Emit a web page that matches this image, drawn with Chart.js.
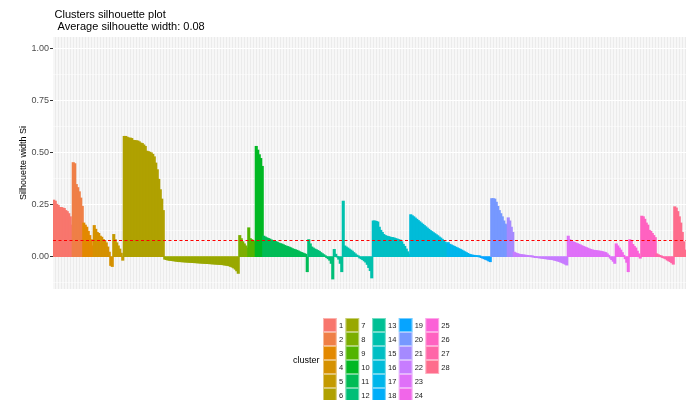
<!DOCTYPE html>
<html>
<head>
<meta charset="utf-8">
<script src="https://cdn.jsdelivr.net/npm/chart.js@4.4.0/dist/chart.umd.min.js"></script>
<style>
  html, body { margin: 0; padding: 0; background: #fff; }
  #wrap { width: 688px; height: 400px; }
</style>
</head>
<body>
<div id="wrap"><canvas id="silhouetteChart" width="688" height="400"></canvas></div>
<script>
// Silhouette widths per cluster, sorted within each cluster
const sil1 = [0.27, 0.265, 0.25, 0.245, 0.235, 0.235, 0.232, 0.23, 0.22, 0.215, 0.205, 0.19, 0.15];
const sil2 = [0.45, 0.445, 0.345, 0.33, 0.31, 0.28, 0.24];
const sil3 = [0.16, 0.15, 0.14, 0.12, 0.10, 0.08, 0.05];
const sil4 = [0.148, 0.13, 0.115, 0.11, 0.097, 0.092, 0.081, 0.075, 0.065, 0.045, 0.02, -0.04, -0.045];
const sil5 = [0.105, 0.08, 0.065, 0.05, 0.035, 0.015, -0.015];
const sil6 = [0.576, 0.576, 0.572, 0.568, 0.568, 0.566, 0.557, 0.556, 0.555, 0.554, 0.55, 0.544, 0.542, 0.535,
  0.528, 0.505, 0.503, 0.5, 0.497, 0.49, 0.478, 0.448, 0.416, 0.37, 0.32, 0.275, 0.22];
const sil7 = [-0.010, -0.012, -0.014, -0.015, -0.016, -0.017, -0.018, -0.019, -0.020, -0.021, -0.022, -0.022,
  -0.023, -0.023, -0.024, -0.024, -0.025, -0.025, -0.026, -0.026, -0.027, -0.027, -0.028, -0.028, -0.029,
  -0.029, -0.030, -0.030, -0.031, -0.031, -0.032, -0.032, -0.033, -0.033, -0.034, -0.034, -0.035, -0.035,
  -0.036, -0.037, -0.038, -0.039, -0.040, -0.042, -0.045, -0.048, -0.052, -0.058, -0.066, -0.078];
const sil8 = [0.10, 0.085, 0.07, 0.06, 0.05, 0.04];
const sil9 = [0.137, 0.085, 0.08, 0.075, 0.07];
const sil10 = [0.528, 0.51, 0.488, 0.47, 0.432];
const sil11 = [0.097, 0.093, 0.089, 0.086, 0.083, 0.079, 0.076, 0.074, 0.071, 0.068, 0.064, 0.061, 0.059, 0.056,
  0.052, 0.049, 0.047, 0.044, 0.041, 0.037, 0.034, 0.032, 0.029, 0.026, 0.022, 0.019, 0.016, 0.013, 0.01, -0.07];
const sil12 = [0.08, 0.06, 0.045, 0.04, 0.035, 0.032, 0.028, 0.024, 0.018, 0.013, 0.008, 0.003, -0.002, -0.008,
  -0.015, -0.03, -0.105];
const sil13 = [0.033, 0.01, 0.0, -0.01, -0.03, -0.07];
const sil14 = [0.265, 0.05, 0.045, 0.04, 0.035, 0.03, 0.025, 0.018, 0.012, 0.006, 0.002, -0.004, -0.008, -0.012,
  -0.018, -0.024, -0.035, -0.05, -0.065, -0.10];
const sil15 = [0.17, 0.17, 0.168, 0.165, 0.14, 0.125, 0.115, 0.105, 0.1, 0.097, 0.095, 0.093, 0.091, 0.09, 0.088,
  0.085, 0.083, 0.08, 0.078, 0.07, 0.058, 0.048, 0.035, 0.022, 0.01];
const sil16 = [0.20, 0.195, 0.19, 0.184, 0.178, 0.172, 0.166, 0.16, 0.154, 0.148, 0.142, 0.136, 0.13, 0.124, 0.119,
  0.114, 0.109, 0.104, 0.099, 0.093, 0.088, 0.082, 0.075, 0.068, 0.06];
const sil17 = [0.066, 0.058, 0.055, 0.051, 0.048, 0.044, 0.041, 0.037, 0.034, 0.03, 0.026, 0.022, 0.018, 0.014, 0.01];
const sil18 = [0.008, 0.006, 0.005, 0.004, 0.003, 0.002, 0.001];
const sil19 = [-0.002, -0.005, -0.008, -0.011, -0.014, -0.018, -0.022];
const sil20 = [0.277, 0.277, 0.275, 0.26, 0.24, 0.22, 0.205, 0.19, 0.17, 0.155, 0.15];
const sil21 = [0.185, 0.17, 0.14, 0.115];
const sil22 = [0.02, 0.016, 0.013, 0.011, 0.009, 0.008, 0.007, 0.006, 0.005, 0.004, 0.003, 0.002, 0.001, 0.0,
  -0.001, -0.002, -0.003, -0.004, -0.005, -0.006, -0.007, -0.008, -0.009, -0.01, -0.011, -0.012, -0.013,
  -0.015, -0.017, -0.019, -0.021, -0.024, -0.027, -0.03, -0.034, -0.038];
const sil23 = [0.097, 0.08, 0.073, 0.07, 0.067, 0.064, 0.061, 0.058, 0.055, 0.051, 0.048, 0.045, 0.042, 0.039,
  0.036, 0.033, 0.031, 0.029, 0.028, 0.027, 0.026, 0.025, 0.024, 0.022, 0.02, 0.018, 0.012, 0.005, -0.005,
  -0.012, -0.02, -0.03];
const sil24 = [0.06, 0.05, 0.04, 0.03, 0.018, 0.005, -0.008, -0.025, -0.07];
const sil25 = [0.08, 0.075, 0.057, 0.048, 0.04, 0.025, 0.012, -0.005];
const sil26 = [0.193, 0.19, 0.178, 0.16, 0.15, 0.125, 0.12, 0.11, 0.1, 0.09];
const sil27 = [0.012, 0.008, 0.004, 0.001, -0.002, -0.005, -0.008, -0.014, -0.018, -0.022, -0.027, -0.034];
const sil28 = [0.238, 0.232, 0.215, 0.19, 0.16, 0.115, 0.07, 0.03];

const clusterSil = [sil1, sil2, sil3, sil4, sil5, sil6, sil7, sil8, sil9, sil10, sil11, sil12, sil13, sil14,
  sil15, sil16, sil17, sil18, sil19, sil20, sil21, sil22, sil23, sil24, sil25, sil26, sil27, sil28];
const clusterNames = clusterSil.map((_, i) => String(i + 1));

const avgWidth = 0.08;
const yMajorTicks = [0, 0.25, 0.5, 0.75, 1];
const yMinorTicks = [-0.125, 0.125, 0.375, 0.625, 0.875];
const yRange = [-0.155, 1.055];

const titleLines = ['Clusters silhouette plot', ' Average silhouette width: 0.08'];
const FONT = '"Liberation Sans", Arial, sans-serif';

// ggplot2 default hue palette (hcl, c = 100, l = 65)
function hcl(h, c, l) {
  const hr = h * Math.PI / 180;
  const U = c * Math.cos(hr), V = c * Math.sin(hr);
  const Y = l > 8 ? Math.pow((l + 16) / 116, 3) : l / 903.3;
  const Xn = 0.95047, Yn = 1, Zn = 1.08883;
  const den = Xn + 15 * Yn + 3 * Zn;
  const u = U / (13 * l) + 4 * Xn / den;
  const v = V / (13 * l) + 9 * Yn / den;
  const X = 9 * Y * u / (4 * v);
  const Z = Y * (12 - 3 * u - 20 * v) / (4 * v);
  const lin = [
    3.240479 * X - 1.537150 * Y - 0.498535 * Z,
    -0.969256 * X + 1.875992 * Y + 0.041556 * Z,
    0.055648 * X - 0.204043 * Y + 1.057311 * Z
  ];
  const rgb = lin.map(x => {
    const g = x <= 0.0031308 ? 12.92 * x : 1.055 * Math.pow(x, 1 / 2.4) - 0.055;
    return Math.round(Math.min(1, Math.max(0, g)) * 255);
  });
  return `rgb(${rgb[0]},${rgb[1]},${rgb[2]})`;
}
const palette = clusterNames.map((_, i) => hcl(15 + 360 * i / clusterNames.length, 100, 65));

// flatten clusters into one bar per observation
const labels = [];
const values = [];
const barColors = [];
clusterSil.forEach((arr, ci) => {
  arr.forEach((v, j) => {
    labels.push(clusterNames[ci] + '.' + (j + 1));
    values.push(v);
    barColors.push(palette[ci]);
  });
});

const isMajor = v => yMajorTicks.some(t => Math.abs(t - v) < 1e-9);

const panelBg = {
  id: 'panelBg',
  beforeDraw(chart) {
    const { ctx, chartArea: a } = chart;
    ctx.save();
    ctx.fillStyle = '#EBEBEB';
    ctx.fillRect(a.left, a.top, a.right - a.left, a.bottom - a.top);
    ctx.restore();
  }
};

const avgLine = {
  id: 'avgLine',
  afterDatasetsDraw(chart) {
    const { ctx, chartArea: a, scales } = chart;
    const y = Math.round(scales.y.getPixelForValue(avgWidth)) + 0.5;
    ctx.save();
    ctx.strokeStyle = '#FF0000';
    ctx.lineWidth = 1;
    ctx.setLineDash([3, 2.5]);
    ctx.beginPath();
    ctx.moveTo(a.left, y);
    ctx.lineTo(a.right, y);
    ctx.stroke();
    ctx.restore();
  }
};

const titleAndLegend = {
  id: 'titleAndLegend',
  afterDraw(chart) {
    const ctx = chart.ctx;
    ctx.save();
    // title
    ctx.fillStyle = '#000';
    ctx.font = '11px ' + FONT;
    ctx.textBaseline = 'alphabetic';
    ctx.textAlign = 'left';
    ctx.fillText(titleLines[0], 54.5, 18);
    ctx.fillText(titleLines[1], 54.5, 29.5);

    // legend
    const rows = 6, keyW = 13.7, keyH = 14, top = 318;
    ctx.font = '9px ' + FONT;
    ctx.textBaseline = 'middle';
    ctx.fillStyle = '#000';
    ctx.fillText('cluster', 293, top + rows * keyH / 2 + 1);
    ctx.font = '7.5px ' + FONT;
    let x = 323;
    const cols = Math.ceil(clusterNames.length / rows);
    for (let c = 0; c < cols; c++) {
      let maxW = 0;
      for (let r = 0; r < rows; r++) {
        const k = c * rows + r;
        if (k >= clusterNames.length) break;
        const y = top + r * keyH;
        ctx.fillStyle = palette[k];
        ctx.fillRect(x, y, keyW, keyH);
        ctx.strokeStyle = 'rgba(255,255,255,0.45)';
        ctx.lineWidth = 1;
        ctx.strokeRect(x + 0.5, y + 0.5, keyW - 1, keyH - 1);
        ctx.fillStyle = '#1A1A1A';
        ctx.fillText(clusterNames[k], x + keyW + 2.2, y + keyH / 2 + 0.5);
        maxW = Math.max(maxW, ctx.measureText(clusterNames[k]).width);
      }
      x = x + keyW + 2.2 + maxW + 2.4;
    }
    ctx.restore();
  }
};

new Chart(document.getElementById('silhouetteChart'), {
  type: 'bar',
  data: {
    labels: labels,
    datasets: [{
      data: values,
      backgroundColor: barColors,
      borderWidth: 0,
      barPercentage: 1,
      categoryPercentage: 1,
      inflateAmount: 0.8
    }]
  },
  options: {
    responsive: false,
    animation: false,
    devicePixelRatio: 1,
    layout: { padding: { top: 37, right: 2, bottom: 111, left: 0 } },
    plugins: {
      legend: { display: false },
      tooltip: { enabled: false },
      title: { display: false }
    },
    scales: {
      x: {
        ticks: { display: false },
        border: { display: false },
        grid: { color: '#FFFFFF', lineWidth: 0.6, drawTicks: false },
        afterFit: s => { s.height = 0; }
      },
      y: {
        min: yRange[0],
        max: yRange[1],
        afterBuildTicks: s => {
          s.ticks = yMinorTicks.concat(yMajorTicks).sort((a, b) => a - b).map(v => ({ value: v }));
        },
        afterFit: s => { s.width = 53; },
        border: { display: false },
        grid: {
          color: '#FFFFFF',
          lineWidth: c => (c.tick && isMajor(c.tick.value)) ? 1 : 0.5,
          tickColor: c => (c.tick && isMajor(c.tick.value)) ? '#333333' : 'rgba(0,0,0,0)',
          tickWidth: 1,
          tickLength: 3
        },
        ticks: {
          padding: 1,
          color: '#4D4D4D',
          font: { family: FONT, size: 9 },
          callback: v => isMajor(v) ? v.toFixed(2) : ''
        },
        title: {
          display: true,
          text: 'Silhouette width Si',
          color: '#000',
          font: { family: FONT, size: 9 },
          padding: { top: 18, bottom: 0 }
        }
      }
    }
  },
  plugins: [panelBg, avgLine, titleAndLegend]
});
</script>
</body>
</html>
